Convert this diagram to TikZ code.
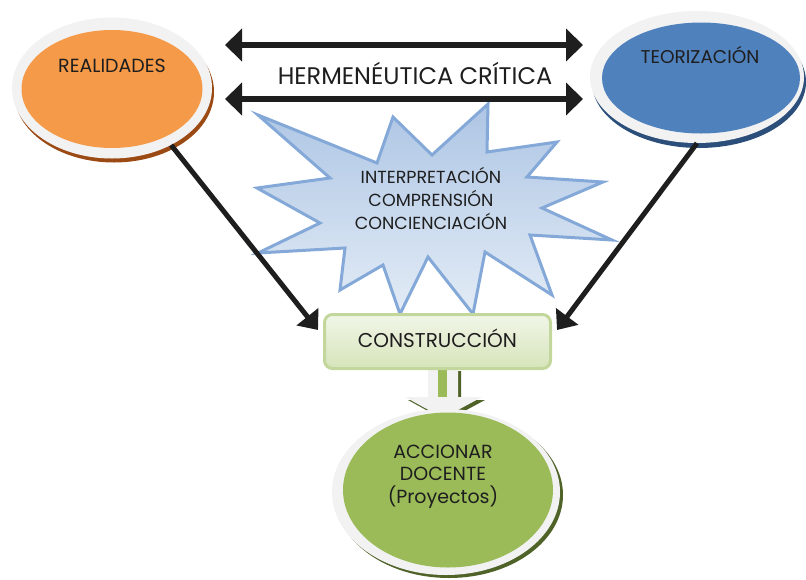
\documentclass[tikz,border=0pt]{standalone}
\usepackage{fontspec}
\setmainfont{Poppins}
\usepackage{xcolor}
\usetikzlibrary{arrows.meta}
\usetikzlibrary{shapes.geometric}
\usetikzlibrary{shadows}

\definecolor{ringgray}{HTML}{F2F2F2}
\definecolor{realorange}{HTML}{F59A48}
\definecolor{realshadow}{HTML}{9C4A14}
\definecolor{teorblue}{HTML}{4F81BD}
\definecolor{teorshadow}{HTML}{2B4F7A}
\definecolor{accgreen}{HTML}{9BBB59}
\definecolor{accshadow}{HTML}{4F6228}
\definecolor{boxline}{HTML}{C3D69B}
\definecolor{boxtop}{HTML}{F1F6E8}
\definecolor{boxbot}{HTML}{D6E4BA}
\definecolor{starline}{HTML}{84A9D8}
\definecolor{startop}{HTML}{ADC5E4}
\definecolor{starbot}{HTML}{E3ECF6}
\definecolor{txt}{HTML}{1E1E1E}

\tikzset{
  ring/.style={ellipse, fill=ringgray, inner sep=0pt},
  core/.style={ellipse, inner sep=0pt},
  lbl/.style={text=txt, inner sep=0pt, align=center, font=\fontsize{17.5}{23}\selectfont},
  bigarrow/.style={line width=6pt, {Triangle[length=17pt,width=32pt]}-{Triangle[length=17pt,width=32pt]}},
  diagarrow/.style={line width=5pt, -{Triangle[length=17pt,width=27pt]}},
}

\begin{document}
\begin{tikzpicture}[x=1pt,y=-1pt]
\useasboundingbox (0,0) rectangle (806,579);

% estrella
\draw[line width=3pt, draw=starline, line join=miter, top color=startop, bottom color=starbot]
(258,115) -- (377,163) -- (393,117) -- (432,155) -- (488,104) -- (487,152)
-- (557,142) -- (527,177) -- (603,182) -- (542,208) -- (612,240) -- (530,235)
-- (552,295) -- (485,252) -- (473,314) -- (428,257) -- (400,314) -- (383,265)
-- (340,290) -- (345,248) -- (258,253) -- (320,223) -- (257,188) -- (330,178) -- cycle;
\node[lbl] (interp) at (431,198.5) {INTERPRETACIÓN\\COMPRENSIÓN\\CONCIENCIACIÓN};

% elipses
\node[ring, minimum width=200pt, minimum height=141pt,
  drop shadow={shadow xshift=2pt, shadow yshift=-4pt, fill=realshadow, opacity=1}] (real) at (112,88) {};
\node[core, fill=realorange, minimum width=181pt, minimum height=118pt] (realcore) at (112,89) {};
\node[lbl, font=\fontsize{19}{21}\selectfont] (realtxt) at (112,65.5) {REALIDADES};

\node[ring, minimum width=214pt, minimum height=132pt,
  drop shadow={shadow xshift=2pt, shadow yshift=-5pt, fill=teorshadow, opacity=1}] (teor) at (697,77) {};
\node[core, fill=teorblue, minimum width=198pt, minimum height=111pt] (teorcore) at (701,78) {};
\node[lbl, font=\fontsize{18.5}{21}\selectfont] (teortxt) at (700,55) {TEORIZACIÓN};

% hermeneutica
\node[lbl, font=\fontsize{24}{26}\selectfont] (herm) at (415,73) {HERMENÉUTICA CRÍTICA};
\foreach \yy/\nm in {45/a,99/b}{
  \coordinate (\nm l) at (225,\yy);
  \coordinate (\nm r) at (583,\yy);
  \draw[bigarrow, txt] (\nm l) -- (\nm r);
}

% flecha de bloque
\def\ax{443}
\fill[accshadow, shift={(3,3)}] (\ax-15,368) -- (\ax+15,368) -- (\ax+15,397) -- (\ax+39,397)
  -- (\ax,418) -- (\ax-38,397) -- (\ax-15,397) -- cycle;
\fill[ringgray] (\ax-15,368) -- (\ax+15,368) -- (\ax+15,397) -- (\ax+39,397)
  -- (\ax,418) -- (\ax-38,397) -- (\ax-15,397) -- cycle;
\fill[accgreen] (\ax-5,368) rectangle (\ax+4,397);

\node[draw=boxline, line width=3pt, rounded corners=8pt, top color=boxtop, bottom color=boxbot,
  minimum width=226pt, minimum height=54pt, inner sep=0pt, text=txt, text depth=6pt,
  font=\fontsize{20}{22}\selectfont] (constr) at (437.5,341.5) {CONSTRUCCIÓN};

\node[ring, minimum width=228pt, minimum height=166pt,
  drop shadow={shadow xshift=3pt, shadow yshift=-3pt, fill=accshadow, opacity=1}] (accion) at (446,492) {};
\node[core, fill=accgreen, minimum width=210pt, minimum height=155pt] (acccore) at (448,490) {};
\node[lbl, font=\fontsize{19}{22.5}\selectfont] (acctxt) at (443,476.5) {ACCIONAR\\DOCENTE\\(Proyectos)};

% flechas diagonales
\coordinate (cl) at (318,330);
\coordinate (cr) at (557,330);
\draw[diagarrow, txt] (real.-44) -- (cl);
\draw[diagarrow, txt] (teor.south) -- (cr);

\end{tikzpicture}
\end{document}
